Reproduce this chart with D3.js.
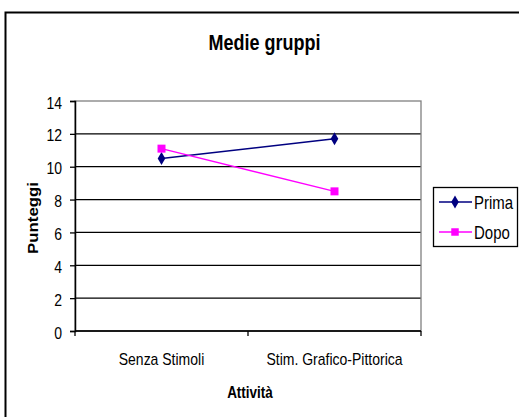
<!DOCTYPE html>
<html><head><meta charset="utf-8">
<script src="https://cdn.jsdelivr.net/npm/d3@7"></script>
<style>
body{margin:0;background:#fff}
text{font-family:Arial,"Liberation Sans",sans-serif;fill:#000}
</style>
</head><body>
<svg id="chart" width="519" height="417"></svg>
<script>
const categories = ["Senza Stimoli", "Stim. Grafico-Pittorica"];
const prima = [10.5, 11.7];
const dopo = [11.1, 8.5];
const yTicks = [0, 2, 4, 6, 8, 10, 12, 14];
const seriesNames = ["Prima", "Dopo"];
const seriesColors = ["#000080", "#FF00FF"];

const svg = d3.select("#chart");
const plot = {left: 75, right: 421, top: 101, bottom: 331};
const STRETCH = 1.2;

// outer chart frame
svg.append("rect").attr("x", 5.5).attr("y", 12.5).attr("width", 540).attr("height", 440)
  .attr("fill", "#fff").attr("stroke", "#000").attr("stroke-width", 2);

const x = d3.scalePoint().domain(categories).range([plot.left, plot.right]).padding(0.5);
const xb = d3.scaleBand().domain(categories).range([plot.left, plot.right]);
const y = d3.scaleLinear().domain([0, 14]).range([plot.bottom, plot.top]);

function label(g, txt, px, py, size, weight, anchor, sy) {
  return g.append("text")
    .attr("transform", `translate(${px},${py}) scale(1,${sy || STRETCH})`)
    .attr("text-anchor", anchor || "middle")
    .style("font-size", size + "px").style("font-weight", weight || "normal")
    .text(txt);
}

// title
label(svg, "Medie gruppi", 264.5, 49.5, 18, "bold", "middle", 1.24);

// gridlines
svg.append("g").selectAll("line").data(yTicks.filter(t => t < 14)).join("line")
  .attr("x1", plot.left).attr("x2", plot.right)
  .attr("y1", d => y(d)).attr("y2", d => y(d))
  .attr("stroke", "#000").attr("stroke-width", 1.3);

// plot area border
svg.append("rect").attr("x", plot.left).attr("y", plot.top)
  .attr("width", plot.right - plot.left).attr("height", plot.bottom - plot.top)
  .attr("fill", "none").attr("stroke", "#808080").attr("stroke-width", 1.3);

// y axis
const yAxis = svg.append("g").attr("transform", `translate(${plot.left},0)`)
  .call(d3.axisLeft(y).tickValues(yTicks).tickSize(5).tickPadding(8));
yAxis.select(".domain").attr("stroke", "#000").attr("stroke-width", 1.5);
yAxis.selectAll(".tick line").attr("stroke", "#000").attr("stroke-width", 1.3);
yAxis.selectAll(".tick text")
  .attr("dy", "0.42em").attr("transform", `scale(1,${STRETCH})`)
  .style("font-size", "14px").style("font-family", "Arial, 'Liberation Sans', sans-serif").attr("fill", "#000");

// x axis with ticks at category boundaries
const xg = svg.append("g");
xg.append("line").attr("x1", plot.left).attr("x2", plot.right)
  .attr("y1", plot.bottom).attr("y2", plot.bottom).attr("stroke", "#000").attr("stroke-width", 1.5);
const edges = categories.map(c => xb(c)).concat([xb(categories[categories.length - 1]) + xb.bandwidth()]);
xg.selectAll("line.t").data(edges).join("line").attr("class", "t")
  .attr("x1", d => d).attr("x2", d => d).attr("y1", plot.bottom).attr("y2", plot.bottom + 5)
  .attr("stroke", "#000").attr("stroke-width", 1.3);
categories.forEach(c => label(xg, c, x(c), 365, 14));

// axis titles
label(svg, "Attività", (plot.left + plot.right) / 2 + 2, 398, 13.5, "bold");
svg.append("text")
  .attr("transform", `translate(38,218) rotate(-90) scale(${STRETCH},1)`)
  .attr("text-anchor", "middle").style("font-size", "14px").style("font-weight", "bold")
  .text("Punteggi");

// series
const series = [prima, dopo];
const diamond = d3.symbol().type(d3.symbolDiamond).size(50);
series.forEach((vals, i) => {
  const pts = categories.map((c, j) => [x(c), y(vals[j])]);
  svg.append("path").attr("d", d3.line()(pts)).attr("fill", "none")
    .attr("stroke", seriesColors[i]).attr("stroke-width", 1.5);
  svg.append("g").selectAll("path").data(pts).join("path")
    .attr("transform", d => `translate(${d[0]},${d[1]})`)
    .attr("d", i === 0 ? diamond() : d3.symbol().type(d3.symbolSquare).size(64)())
    .attr("fill", seriesColors[i]);
});

// legend
const lg = svg.append("g");
lg.append("rect").attr("x", 433.5).attr("y", 187.5).attr("width", 84).attr("height", 59)
  .attr("fill", "#fff").attr("stroke", "#000").attr("stroke-width", 1.3);
const rowsY = [202, 232];
seriesNames.forEach((n, i) => {
  lg.append("line").attr("x1", 439).attr("x2", 472).attr("y1", rowsY[i]).attr("y2", rowsY[i])
    .attr("stroke", seriesColors[i]).attr("stroke-width", 1.5);
  lg.append("path").attr("transform", `translate(455,${rowsY[i]})`)
    .attr("d", i === 0 ? diamond() : d3.symbol().type(d3.symbolSquare).size(56)())
    .attr("fill", seriesColors[i]);
  label(lg, n, 474, rowsY[i] + 6.5, 15, "normal", "start", 1.18);
});
</script>
</body></html>
